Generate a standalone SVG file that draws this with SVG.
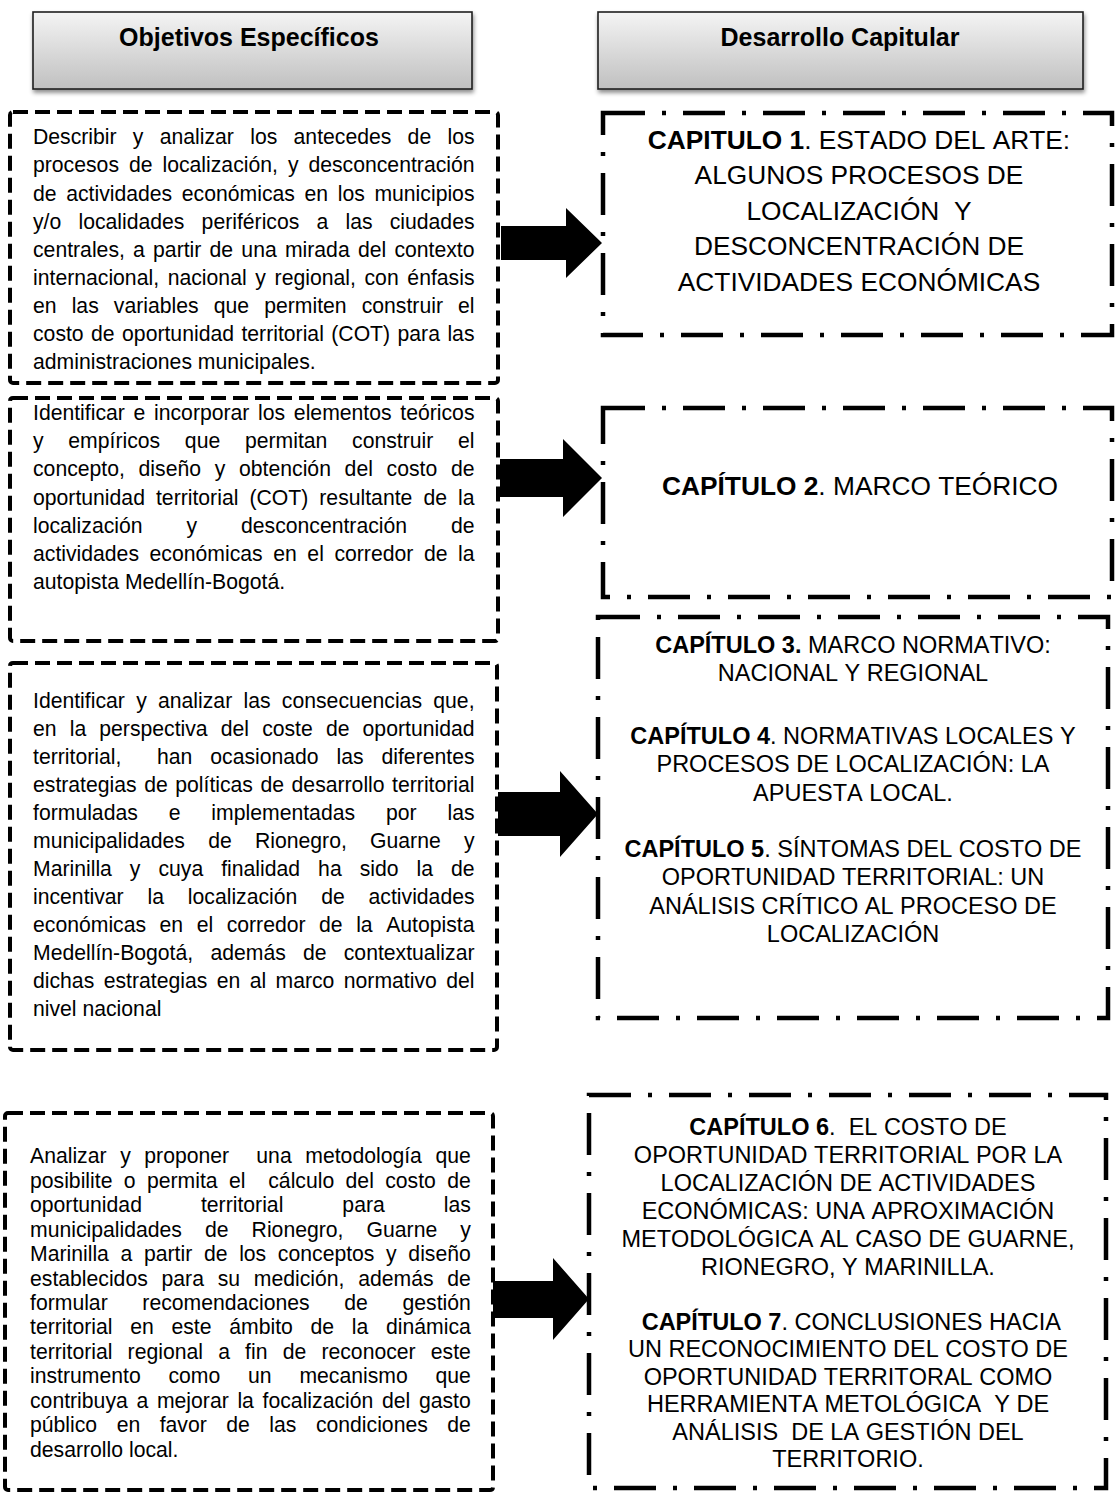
<svg xmlns="http://www.w3.org/2000/svg" width="1118" height="1494" viewBox="0 0 1118 1494">
  <style>
    text { font-family: "Liberation Sans", Arial, sans-serif; fill: #000; font-kerning: none; }
    .hdr-box { fill: url(#hdrGrad); stroke: #1e1e1e; stroke-width: 1.6; }
    .hdr-txt { font-size: 25px; font-weight: bold; text-anchor: middle; }
    .obj-box { fill: #fff; stroke: #000; stroke-width: 4; stroke-dasharray: 15 7; }
    .cap-box { fill: #fff; stroke: #000; stroke-width: 4.5; stroke-dasharray: 42 17 4 17; }
    .obj { font-size: 21.2px; }
    .capL { font-size: 26.3px; text-anchor: middle; }
    .capS { font-size: 23.5px; text-anchor: middle; }
    .b { font-weight: bold; }
    .arrow { fill: #000; }
  </style>
  <defs>
    <linearGradient id="hdrGrad" x1="0" y1="0" x2="0" y2="1">
      <stop offset="0" stop-color="#f4f4f4"/>
      <stop offset="1" stop-color="#c0c0c0"/>
    </linearGradient>
    <filter id="hdrShadow" x="-5%" y="-10%" width="112%" height="135%">
      <feDropShadow dx="1" dy="3" stdDeviation="2" flood-color="#000" flood-opacity="0.45"/>
    </filter>
  </defs>

  <rect width="1118" height="1494" fill="#fff"/>

  <!-- column headers -->
  <g id="hdr-objetivos">
    <rect class="hdr-box" x="33" y="12" width="439" height="77" filter="url(#hdrShadow)"/>
    <text class="hdr-txt" x="249" y="46">Objetivos Específicos</text>
  </g>
  <g id="hdr-capitulos">
    <rect class="hdr-box" x="598" y="12" width="485" height="77" filter="url(#hdrShadow)"/>
    <text class="hdr-txt" x="840" y="46">Desarrollo Capitular</text>
  </g>

  <!-- objectives (left column), justified lines -->
  <g id="obj-1">
    <rect class="obj-box" x="10" y="112" width="488" height="271" rx="3"/>
    <text class="obj" x="33" y="144.3" style="word-spacing:10.39px">Describir y analizar los antecedes de los</text>
    <text class="obj" x="33" y="172.4" style="word-spacing:4.09px">procesos de localización, y desconcentración</text>
    <text class="obj" x="33" y="200.6" style="word-spacing:3.74px">de actividades económicas en los municipios</text>
    <text class="obj" x="33" y="228.7" style="word-spacing:11.28px">y/o localidades periféricos a las ciudades</text>
    <text class="obj" x="33" y="256.8" style="word-spacing:2.33px">centrales, a partir de una mirada del contexto</text>
    <text class="obj" x="33" y="284.9" style="word-spacing:2.79px">internacional, nacional y regional, con énfasis</text>
    <text class="obj" x="33" y="313.1" style="word-spacing:9.21px">en las variables que permiten construir el</text>
    <text class="obj" x="33" y="341.2" style="word-spacing:1.55px">costo de oportunidad territorial (COT) para las</text>
    <text class="obj" x="33" y="369.3">administraciones municipales.</text>
  </g>

  <g id="obj-2">
    <rect class="obj-box" x="10" y="398" width="488" height="243" rx="3"/>
    <text class="obj" x="33" y="420" style="word-spacing:2.80px">Identificar e incorporar los elementos teóricos</text>
    <text class="obj" x="33" y="448.2" style="word-spacing:18.83px">y empíricos que permitan construir el</text>
    <text class="obj" x="33" y="476.4" style="word-spacing:7.82px">concepto, diseño y obtención del costo de</text>
    <text class="obj" x="33" y="504.6" style="word-spacing:5.16px">oportunidad territorial (COT) resultante de la</text>
    <text class="obj" x="33" y="532.8" style="word-spacing:38.05px">localización y desconcentración de</text>
    <text class="obj" x="33" y="561" style="word-spacing:4.69px">actividades económicas en el corredor de la</text>
    <text class="obj" x="33" y="589.2">autopista Medellín-Bogotá.</text>
  </g>

  <g id="obj-3">
    <rect class="obj-box" x="10" y="663" width="487" height="387" rx="3"/>
    <text class="obj" x="33" y="708.3" style="word-spacing:5.39px">Identificar y analizar las consecuencias que,</text>
    <text class="obj" x="33" y="736.3" style="word-spacing:7.23px">en la perspectiva del coste de oportunidad</text>
    <text class="obj" x="33" y="764.3" style="word-spacing:11.99px" xml:space="preserve">territorial,  han ocasionado las diferentes</text>
    <text class="obj" x="33" y="792.3" style="word-spacing:1.63px">estrategias de políticas de desarrollo territorial</text>
    <text class="obj" x="33" y="820.3" style="word-spacing:25.0px">formuladas e implementadas por las</text>
    <text class="obj" x="33" y="848.3" style="word-spacing:17.34px">municipalidades de Rionegro, Guarne y</text>
    <text class="obj" x="33" y="876.3" style="word-spacing:12.10px">Marinilla y cuya finalidad ha sido la de</text>
    <text class="obj" x="33" y="904.3" style="word-spacing:17.94px">incentivar la localización de actividades</text>
    <text class="obj" x="33" y="932.3" style="word-spacing:7.63px">económicas en el corredor de la Autopista</text>
    <text class="obj" x="33" y="960.3" style="word-spacing:11.33px">Medellín-Bogotá, además de contextualizar</text>
    <text class="obj" x="33" y="988.3" style="word-spacing:3.51px">dichas estrategias en al marco normativo del</text>
    <text class="obj" x="33" y="1016.3">nivel nacional</text>
  </g>

  <g id="obj-4">
    <rect class="obj-box" x="5" y="1113" width="488" height="377" rx="3"/>
    <text class="obj" x="30" y="1163.3" style="word-spacing:7.71px" xml:space="preserve">Analizar y proponer  una metodología que</text>
    <text class="obj" x="30" y="1187.7" style="word-spacing:5.49px" xml:space="preserve">posibilite o permita el  cálculo del costo de</text>
    <text class="obj" x="30" y="1212.2" style="word-spacing:53.13px">oportunidad territorial para las</text>
    <text class="obj" x="30" y="1236.6" style="word-spacing:17.17px">municipalidades de Rionegro, Guarne y</text>
    <text class="obj" x="30" y="1261.1" style="word-spacing:5.77px">Marinilla a partir de los conceptos y diseño</text>
    <text class="obj" x="30" y="1285.5" style="word-spacing:7.84px">establecidos para su medición, además de</text>
    <text class="obj" x="30" y="1310" style="word-spacing:28.78px">formular recomendaciones de gestión</text>
    <text class="obj" x="30" y="1334.4" style="word-spacing:11.84px">territorial en este ámbito de la dinámica</text>
    <text class="obj" x="30" y="1358.8" style="word-spacing:9.29px">territorial regional a fin de reconocer este</text>
    <text class="obj" x="30" y="1383.3" style="word-spacing:21.89px">instrumento como un mecanismo que</text>
    <text class="obj" x="30" y="1407.7" style="word-spacing:2.80px">contribuya a mejorar la focalización del gasto</text>
    <text class="obj" x="30" y="1432.2" style="word-spacing:13.60px">público en favor de las condiciones de</text>
    <text class="obj" x="30" y="1456.6">desarrollo local.</text>
  </g>

  <!-- chapters (right column) -->
  <g id="cap-1">
    <rect class="cap-box" x="603" y="113" width="509" height="222"/>
    <text class="capL" x="859" y="148.5"><tspan class="b">CAPITULO 1</tspan>. ESTADO DEL ARTE:</text>
    <text class="capL" x="859" y="184">ALGUNOS PROCESOS DE</text>
    <text class="capL" x="859" y="219.5" xml:space="preserve">LOCALIZACIÓN  Y</text>
    <text class="capL" x="859" y="255">DESCONCENTRACIÓN DE</text>
    <text class="capL" x="859" y="290.5">ACTIVIDADES ECONÓMICAS</text>
  </g>

  <g id="cap-2">
    <rect class="cap-box" x="603" y="408" width="509" height="189"/>
    <text class="capL" x="860" y="495"><tspan class="b">CAPÍTULO 2</tspan>. MARCO TEÓRICO</text>
  </g>

  <g id="cap-3-5">
    <rect class="cap-box" x="598" y="617" width="510" height="401"/>
    <text class="capS" x="853" y="653"><tspan class="b">CAPÍTULO 3.</tspan> MARCO NORMATIVO:</text>
    <text class="capS" x="853" y="681.3">NACIONAL Y REGIONAL</text>
    <text class="capS" x="853" y="744"><tspan class="b">CAPÍTULO 4</tspan>. NORMATIVAS LOCALES Y</text>
    <text class="capS" x="853" y="772.3">PROCESOS DE LOCALIZACIÓN: LA</text>
    <text class="capS" x="853" y="800.6">APUESTA LOCAL.</text>
    <text class="capS" x="853" y="857"><tspan class="b">CAPÍTULO 5</tspan>. SÍNTOMAS DEL COSTO DE</text>
    <text class="capS" x="853" y="885.3">OPORTUNIDAD TERRITORIAL: UN</text>
    <text class="capS" x="853" y="913.6">ANÁLISIS CRÍTICO AL PROCESO DE</text>
    <text class="capS" x="853" y="941.9">LOCALIZACIÓN</text>
  </g>

  <g id="cap-6-7">
    <rect class="cap-box" x="589" y="1095" width="517" height="393"/>
    <text class="capS" x="848" y="1135" xml:space="preserve"><tspan class="b">CAPÍTULO 6</tspan>.  EL COSTO DE</text>
    <text class="capS" x="848" y="1163">OPORTUNIDAD TERRITORIAL POR LA</text>
    <text class="capS" x="848" y="1191">LOCALIZACIÓN DE ACTIVIDADES</text>
    <text class="capS" x="848" y="1219">ECONÓMICAS: UNA APROXIMACIÓN</text>
    <text class="capS" x="848" y="1247">METODOLÓGICA AL CASO DE GUARNE,</text>
    <text class="capS" x="848" y="1275">RIONEGRO, Y MARINILLA.</text>
    <text class="capS" x="848" y="1330" xml:space="preserve"> <tspan class="b">CAPÍTULO 7</tspan>. CONCLUSIONES HACIA</text>
    <text class="capS" x="848" y="1357.4">UN RECONOCIMIENTO DEL COSTO DE</text>
    <text class="capS" x="848" y="1384.8">OPORTUNIDAD TERRITORAL COMO</text>
    <text class="capS" x="848" y="1412.2" xml:space="preserve">HERRAMIENTA METOLÓGICA  Y DE</text>
    <text class="capS" x="848" y="1439.6" xml:space="preserve">ANÁLISIS  DE LA GESTIÓN DEL</text>
    <text class="capS" x="848" y="1467">TERRITORIO.</text>
  </g>

  <!-- block arrows from each objective to its chapters -->
  <g id="connectors">
    <polygon class="arrow" points="501,226 566,226 566,208 602,243 566,278 566,260 501,260"/>
    <polygon class="arrow" points="500,459 563,459 563,439 602,478 563,517 563,497 500,497"/>
    <polygon class="arrow" points="498,792 560,792 560,771 598,814 560,857 560,836 498,836"/>
    <polygon class="arrow" points="493,1281 553,1281 553,1258 589,1299 553,1340 553,1318 493,1318"/>
  </g>
</svg>
